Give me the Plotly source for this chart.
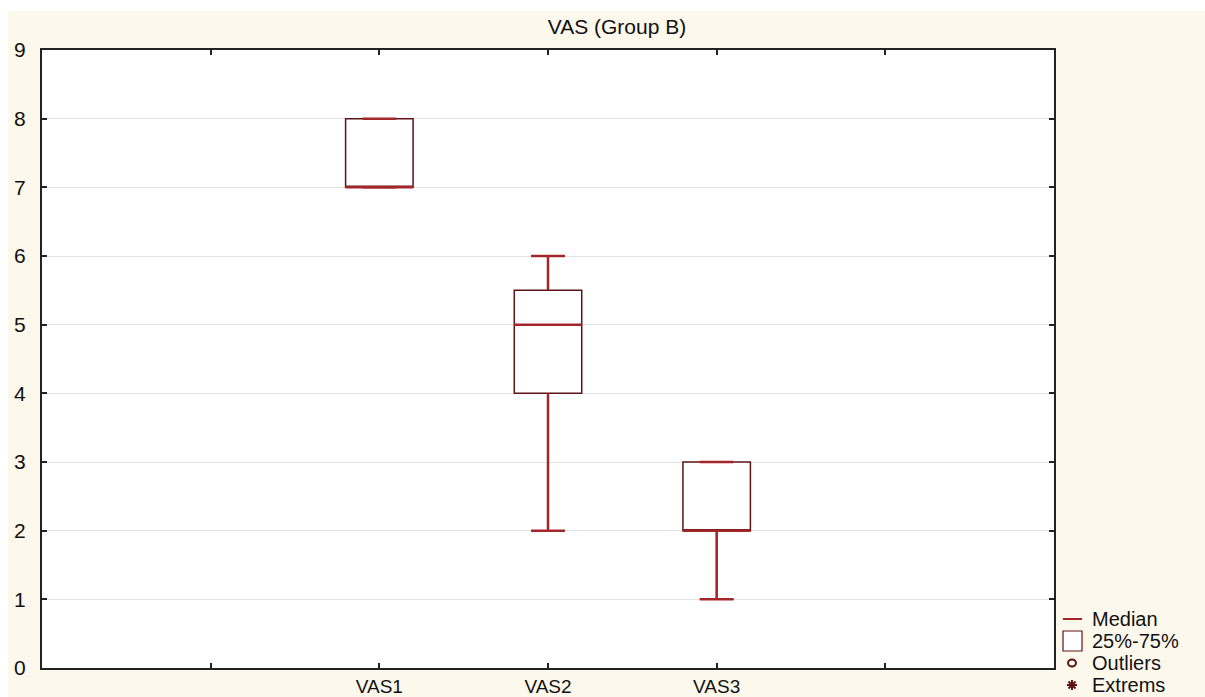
import plotly.graph_objects as go

categories = ["VAS1", "VAS2", "VAS3"]
positions = [2, 3, 4]
mins = [7, 2, 1]
q1s = [7, 4, 2]
medians = [7, 5, 2]
q3s = [8, 5.5, 3]
maxs = [8, 6, 3]

y_ticks = list(range(0, 10))
x_tickvals = [1, 2, 3, 4, 5]
x_ticktext = ["", "VAS1", "VAS2", "VAS3", ""]
legend_labels = ["Median", "25%-75%", "Outliers", "Extrems"]

BOX_W = 0.4
CAP_W = 0.2
DARK = "#5c1414"
RED = "#a3262b"
CREAM = "#fdf8ec"
FONT = "Liberation Sans, Arial, sans-serif"

fig = go.Figure()

fig.add_trace(go.Box(
    x=positions, q1=q1s, median=medians, q3=q3s,
    lowerfence=mins, upperfence=maxs,
    width=BOX_W, whiskerwidth=0.5,
    line=dict(color=DARK, width=1.5), fillcolor="white",
    boxpoints=False, showlegend=False, hoverinfo="skip",
))

# whiskers and caps in red
wx, wy = [], []
for p, lo, a, b, hi in zip(positions, mins, q1s, q3s, maxs):
    if hi > b:
        wx += [p, p, None]
        wy += [b, hi, None]
    wx += [p - CAP_W / 2, p + CAP_W / 2, None]
    wy += [hi, hi, None]
    if lo < a:
        wx += [p, p, None]
        wy += [a, lo, None]
    wx += [p - CAP_W / 2, p + CAP_W / 2, None]
    wy += [lo, lo, None]
fig.add_trace(go.Scatter(x=wx, y=wy, mode="lines", line=dict(color=RED, width=2.5),
                         showlegend=False, hoverinfo="skip"))

mx, my = [], []
for p, m in zip(positions, medians):
    mx += [p - BOX_W / 2, p + BOX_W / 2, None]
    my += [m, m, None]
fig.add_trace(go.Scatter(x=mx, y=my, mode="lines", line=dict(color=RED, width=2.5),
                         showlegend=False, hoverinfo="skip"))

L, R, T, B = 42, 151, 50, 29
W, H = 1205, 697
pw, ph = W - L - R, H - T - B


def px_x(x):
    return (x - L) / pw


def px_y(y):
    return (H - B - y) / ph


shapes = [
    dict(type="rect", xref="paper", yref="paper",
         x0=px_x(-5), x1=px_x(W + 5), y0=px_y(11), y1=px_y(-5),
         fillcolor="white", line=dict(width=0), layer="below"),
    dict(type="rect", xref="paper", yref="paper",
         x0=px_x(-5), x1=px_x(8), y0=px_y(H + 5), y1=px_y(-5),
         fillcolor="white", line=dict(width=0), layer="below"),
]

# custom legend (symbols as shapes, labels as annotations)
row_y = [619, 641, 663, 685]
sym_cx = 1072
shapes.append(dict(type="line", xref="paper", yref="paper",
                   x0=px_x(1063), x1=px_x(1082), y0=px_y(row_y[0]), y1=px_y(row_y[0]),
                   line=dict(color=RED, width=2)))
shapes.append(dict(type="rect", xref="paper", yref="paper",
                   x0=px_x(1063), x1=px_x(1082), y0=px_y(row_y[1] + 10), y1=px_y(row_y[1] - 10),
                   fillcolor="white", line=dict(color=DARK, width=1.2)))
shapes.append(dict(type="circle", xref="paper", yref="paper",
                   x0=px_x(sym_cx - 4), x1=px_x(sym_cx + 4), y0=px_y(row_y[2] + 3.5), y1=px_y(row_y[2] - 3.5),
                   line=dict(color=DARK, width=2)))
r = 5
for dx, dy in [(r, 0), (0, r), (0.7 * r, 0.7 * r), (0.7 * r, -0.7 * r)]:
    shapes.append(dict(type="line", xref="paper", yref="paper",
                       x0=px_x(sym_cx - dx), x1=px_x(sym_cx + dx),
                       y0=px_y(row_y[3] - dy), y1=px_y(row_y[3] + dy),
                       line=dict(color=DARK, width=2)))

annotations = []
for lab, yy in zip(legend_labels, row_y):
    annotations.append(dict(text=lab, xref="paper", yref="paper", x=px_x(1090), y=px_y(yy),
                            xanchor="left", yanchor="middle", showarrow=False,
                            font=dict(size=20, color="#111111")))

fig.update_layout(
    width=W, height=H,
    margin=dict(l=L, r=R, t=T, b=B, pad=0, autoexpand=False),
    paper_bgcolor=CREAM, plot_bgcolor="white",
    font=dict(family=FONT, size=21, color="#111111"),
    title=dict(text="VAS (Group B)", x=617 / W, xref="container", xanchor="center",
               y=1 - 27 / H, yref="container", yanchor="middle",
               font=dict(size=21, color="#111111")),
    xaxis=dict(range=[0, 6], tickvals=x_tickvals, ticktext=x_ticktext,
               ticks="inside", ticklen=5, tickwidth=2, tickcolor="#222",
               showline=True, linecolor="#222", linewidth=2, mirror="ticks",
               showgrid=False, zeroline=False, ticklabelstandoff=0, automargin=False,
               tickfont=dict(size=19)),
    yaxis=dict(range=[0, 9], tickvals=y_ticks,
               ticks="inside", ticklen=5, tickwidth=2, tickcolor="#222",
               showline=True, linecolor="#222", linewidth=2, mirror="ticks",
               gridcolor="#e2e2e2", gridwidth=1, zeroline=False, ticklabelstandoff=10,
               automargin=False),
    showlegend=False,
    shapes=shapes,
    annotations=annotations,
)

fig.write_html("out.html")
